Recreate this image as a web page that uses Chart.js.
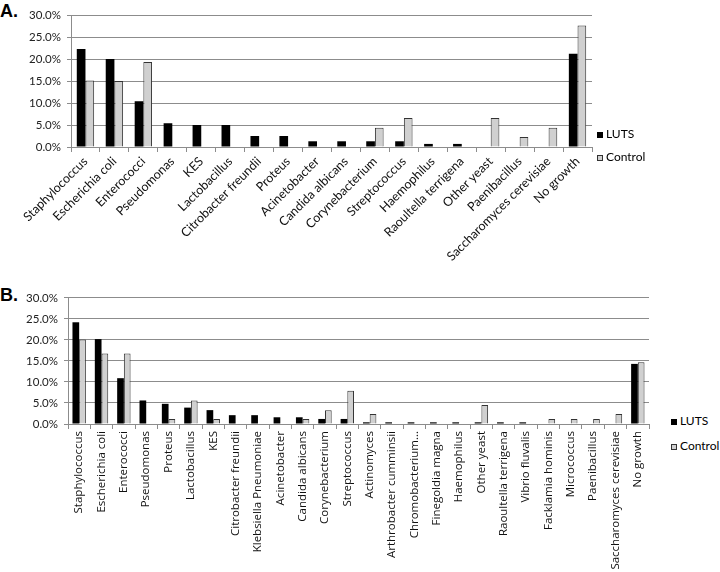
<!DOCTYPE html>
<html>
<head>
<meta charset="utf-8">
<script src="https://cdn.jsdelivr.net/npm/chart.js@4.4.1/dist/chart.umd.min.js"></script>
<style>
  body { margin: 0; width: 720px; height: 572px; background: #fff; position: relative; overflow: hidden; font-family: Lato, "Liberation Sans", sans-serif; }
  .panel { position: absolute; left: 0; }
  .tag { position: absolute; left: 0; font: bold 18px "Liberation Sans", Arial, sans-serif; color: #000; }
  .leg { position: absolute; font-size: 12px; color: #000; white-space: nowrap; }
  .leg span.box { display: inline-block; width: 6px; height: 6px; margin-right: 3px; vertical-align: 0px; box-sizing: border-box; }
  .luts { background: #000; }
  .ctrl { background: #d0d0d0; border: 1px solid #333; }
</style>
</head>
<body>
<div class="tag" style="top:1px">A.</div>
<div class="tag" style="top:285px">B.</div>
<div class="panel" style="top:0; width:600px; height:285px"><canvas id="chartA"></canvas></div>
<div class="panel" style="top:285px; width:655px; height:287px"><canvas id="chartB"></canvas></div>
<div class="leg" style="left:597px; top:126px"><span class="box luts"></span>LUTS</div>
<div class="leg" style="left:597px; top:149px"><span class="box ctrl"></span>Control</div>
<div class="leg" style="left:671px; top:413px"><span class="box luts"></span>LUTS</div>
<div class="leg" style="left:671px; top:438px"><span class="box ctrl"></span>Control</div>
<script>
const categoriasA = ["Staphylococcus", "Escherichia coli", "Enterococci", "Pseudomonas", "KES", "Lactobacillus",
  "Citrobacter freundii", "Proteus", "Acinetobacter", "Candida albicans", "Corynebacterium", "Streptococcus",
  "Haemophilus", "Raoultella terrigena", "Other yeast", "Paenibacillus", "Saccharomyces cerevisiae", "No growth"];
const lutsA = [22.3, 20.0, 10.4, 5.4, 5.0, 5.0, 2.5, 2.5, 1.3, 1.3, 1.3, 1.3, 0.7, 0.7, 0, 0, 0, 21.2];
const controlA = [15.1, 15.0, 19.3, 0, 0, 0, 0, 0, 0, 0, 4.4, 6.6, 0, 0, 6.6, 2.3, 4.4, 27.6];

const categoriasB = ["Staphylococcus", "Escherichia coli", "Enterococci", "Pseudomonas", "Proteus", "Lactobacillus",
  "KES", "Citrobacter freundii", "Klebsiella Pneumoniae", "Acinetobacter", "Candida albicans", "Corynebacterium",
  "Streptococcus", "Actinomyces", "Arthrobacter cumminsii", "Chromobacterium...", "Finegoldia magna", "Haemophilus",
  "Other yeast", "Raoultella terrigena", "Vibrio fluvalis", "Facklamia hominis", "Micrococcus", "Paenibacillus",
  "Saccharomyces cerevisiae", "No growth"];
const lutsB = [24.2, 20.2, 10.9, 5.6, 4.8, 3.9, 3.3, 2.1, 2.1, 1.6, 1.6, 1.2, 1.2, 0.4, 0.4, 0.4, 0.4, 0.4,
  0.4, 0.4, 0.4, 0, 0, 0, 0, 14.3];
const controlB = [20.1, 16.8, 16.8, 0, 1.2, 5.6, 1.2, 0, 0, 0, 1.2, 3.3, 7.9, 2.4, 0, 0, 0, 0,
  4.5, 0, 0, 1.2, 1.2, 1.2, 2.4, 14.7];

const ticksY = [0, 5, 10, 15, 20, 25, 30];

const gris = "#8c8c8c";

function crearGrafico(id, categorias, luts, control, opts) {
  return new Chart(document.getElementById(id), {
    type: "bar",
    data: {
      labels: categorias,
      datasets: [
        { label: "LUTS", data: luts, backgroundColor: "#000", borderWidth: 0,
          categoryPercentage: opts.catPct, barPercentage: 1.0 },
        { label: "Control", data: control, backgroundColor: "#d0d0d0", borderColor: "#333", borderWidth: 1,
          categoryPercentage: opts.catPct, barPercentage: 1.0 }
      ]
    },
    options: {
      responsive: true,
      maintainAspectRatio: false,
      animation: false,
      layout: { padding: { top: opts.top, right: opts.right, left: 0, bottom: 0 } },
      plugins: { legend: { display: false }, tooltip: { enabled: false } },
      scales: {
        x: {
          grid: { display: true, drawOnChartArea: false, drawTicks: true, tickLength: 5, color: gris, offset: true },
          border: { display: true, color: gris, width: 1 },
          ticks: {
            autoSkip: false, minRotation: opts.rot, maxRotation: opts.rot, padding: 2,
            color: "#111", font: { family: opts.labelFont, size: opts.labelSize }
          },
          afterFit: (s) => { s.height = opts.xHeight; }
        },
        y: {
          min: 0, max: 30,
          afterBuildTicks: (s) => { s.ticks = ticksY.map((v) => ({ value: v })); },
          grid: { color: gris, lineWidth: 1, tickLength: 4 },
          border: { display: true, color: gris, width: 1 },
          ticks: {
            padding: 6, color: "#222", font: { family: "Lato", size: 11.5 },
            callback: (v) => v.toFixed(1) + "%"
          },
          afterFit: (s) => { s.width = opts.yWidth; }
        }
      }
    }
  });
}

crearGrafico("chartA", categoriasA, lutsA, controlA,
  { catPct: 0.6, top: 15, right: 8, rot: 45, xHeight: 138, yWidth: 71, labelFont: "Lato", labelSize: 12.5 });
crearGrafico("chartB", categoriasB, lutsB, controlB,
  { catPct: 0.6, top: 9, right: 6, rot: 90, xHeight: 148, yWidth: 68, labelFont: "Open Sans", labelSize: 11.5 });
</script>
</body>
</html>
